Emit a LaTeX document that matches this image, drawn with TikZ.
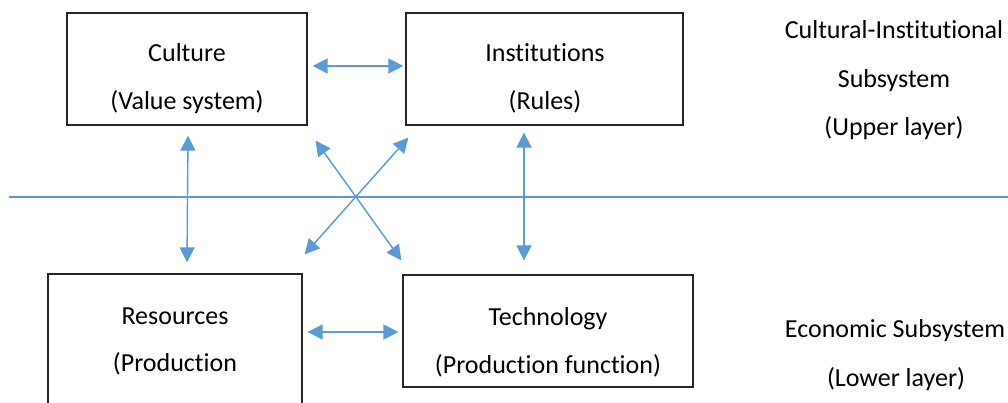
\documentclass[tikz,border=0pt]{standalone}
\usepackage{fontspec}
\setmainfont{Carlito}[Ligatures={NoCommon,NoContextual}]
\usetikzlibrary{arrows.meta,calc}
\definecolor{ablue}{HTML}{5B9BD5}
\tikzset{
  box/.style={draw=black!85, line width=1.2pt, inner sep=0pt},
  lbl/.style={anchor=base, inner sep=0pt, font=\fontsize{26}{30}\selectfont},
  arr/.style={draw=ablue, line width=1.4pt, {Triangle[length=15pt,width=15pt]}-{Triangle[length=15pt,width=15pt]}},
  divider/.style={draw=ablue, line width=1.2pt}
}
\begin{document}
\begin{tikzpicture}[x=1pt,y=-1pt]
\clip (0,0) rectangle (1008,403);
\fill[white] (0,0) rectangle (1008,403);
% boxes
\node[box, minimum width=240pt, minimum height=112pt] (cult) at (187,69) {};
\node[box, minimum width=277pt, minimum height=112pt] (inst) at (544.5,69) {};
\node[box, minimum width=254pt, minimum height=190pt] (res) at (175,369) {};
\node[box, minimum width=290pt, minimum height=112pt] (tech) at (548,331) {};
% texts
\node[lbl] (t1) at (187,62) {Culture};
\node[lbl] (t2) at (187,110) {(Value system)};
\node[lbl] (t3) at (545,62) {Institutions};
\node[lbl] (t4) at (545,110) {(Rules)};
\node[lbl] (t5) at (175,324) {Resources};
\node[lbl] (t6) at (175,371) {(Production};
\node[lbl] (t7) at (548,325) {Technology};
\node[lbl] (t8) at (548,373) {(Production function)};
\node[lbl] (r1) at (894,39) {Cultural-Institutional};
\node[lbl] (r2) at (894,88) {Subsystem};
\node[lbl] (r3) at (894,136) {(Upper layer)};
\node[lbl] (r4) at (895,337) {Economic Subsystem};
\node[lbl] (r5) at (896,386) {(Lower layer)};
% divider
\coordinate (dl) at (9,197);
\coordinate (dr) at (1008,197);
\draw[divider] (dl) -- (dr);
% arrows
\draw[arr] ($(cult.east)+(5,-3)$) -- ($(inst.west)+(-2,-3)$);
\draw[arr] ($(res.east |- tech.west)+(5,1)$) -- ($(tech.west)+(-4,1)$);
\draw[arr] ($(cult.south)+(1,10)$) -- ($(cult.south |- res.north)+(0,-11)$);
\draw[arr] ($(inst.south)+(-20.5,7)$) -- ($(inst.south |- tech.north)+(-20.5,-14)$);
\draw[arr] ($(cult.south east)+(8,15)$) -- ($(tech.north west)+(-1,-14)$);
\draw[arr] ($(inst.south west)+(3,12)$) -- ($(res.north east)+(2,-19)$);
\end{tikzpicture}
\end{document}
